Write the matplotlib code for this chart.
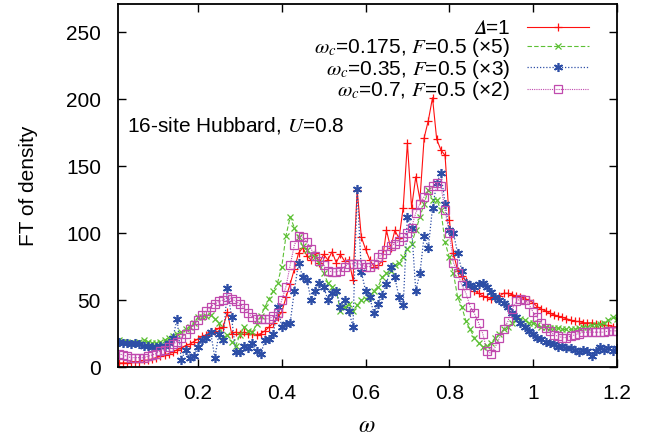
import numpy as np
import matplotlib
matplotlib.use("Agg")
import matplotlib.pyplot as plt

plt.rcParams["font.family"] = ["Liberation Sans", "DejaVu Sans"]
plt.rcParams["mathtext.fontset"] = "stix"

# omega grid, 0.01 .. 1.20
omega = np.round(np.arange(1, 121) * 0.01, 2)

delta1 = [3, 3, 3, 4, 4, 4, 5, 5, 6, 7,
          8, 9, 10, 11, 13, 14, 16, 17, 19, 21,
          23, 24, 26, 27, 29, 30, 41, 25, 26, 25,
          26, 25, 25, 24, 25, 27, 30, 33, 37, 41,
          52, 62, 73, 85, 89, 83, 80, 85, 78, 84,
          80, 86, 78, 84, 79, 80, 65, 132, 97, 88,
          80, 75, 76, 79, 102, 89, 102, 96, 119, 167,
          119, 142, 125, 171, 184, 201, 170, 162, 158, 110,
          85, 72, 68, 64, 60, 57, 55, 53, 52, 51,
          52, 53, 55, 55, 54, 53, 52, 51, 50, 48,
          45, 43, 42, 40, 39, 38, 37, 36, 35, 34,
          34, 33, 33, 33, 32, 32, 31, 31, 30, 30]

wc0175 = [20, 19, 19, 18, 18, 19, 20, 19, 18, 18,
          19, 20, 22, 23, 25, 26, 28, 30, 33, 37,
          37, 38, 39, 36, 33, 22, 24, 19, 16, 24,
          30, 27, 26, 32, 38, 45, 51, 57, 63, 75,
          98, 112, 104, 97, 90, 87, 84, 82, 78, 70,
          63, 60, 57, 42, 45, 47, 42, 46, 50, 51,
          52, 57, 60, 67, 70, 72, 76, 78, 82, 88,
          92, 102, 112, 122, 132, 125, 125, 117, 93, 82,
          70, 52, 45, 34, 28, 22, 18, 15, 16, 18,
          22, 25, 28, 30, 33, 35, 36, 35, 33, 33,
          31, 30, 30, 29, 29, 29, 28, 28, 28, 28,
          29, 30, 30, 31, 31, 32, 33, 35, 37, 36]

wc035 = [19, 18, 18, 17, 18, 17, 16, 16, 15, 15,
         16, 16, 18, 22, 36, 5, 13, 7, 8, 15,
         20, 22, 26, 7, 25, 20, 59, 37, 11, 11,
         16, 14, 18, 12, 10, 20, 21, 25, 45, 30,
         32, 33, 57, 78, 67, 65, 50, 57, 63, 60,
         50, 55, 57, 45, 50, 42, 30, 133, 71, 57,
         52, 40, 47, 54, 62, 75, 67, 52, 46, 112,
         104, 57, 70, 98, 89, 119, 137, 145, 122, 102,
         100, 85, 72, 63, 61, 60, 62, 63, 60, 56,
         52, 50, 48, 45, 40, 37, 33, 30, 27, 25,
         22, 21, 19, 18, 17, 15, 16, 14, 14, 13,
         11, 13, 12, 8, 12, 15, 13, 14, 12, 14]

wc07 = [10, 9, 8, 7, 7, 7, 7, 8, 9, 10,
        12, 13, 15, 17, 19, 22, 25, 28, 31, 35,
        39, 42, 45, 47, 49, 50, 52, 51, 49, 47,
        44, 40, 37, 36, 36, 36, 36, 38, 40, 50,
        60, 76, 91, 98, 97, 93, 88, 83, 79, 76,
        72, 71, 71, 72, 75, 77, 77, 77, 77, 75,
        75, 77, 82, 84, 87, 90, 92, 94, 97, 100,
        104, 115, 122, 127, 132, 135, 137, 135, 117, 100,
        78, 70, 61, 55, 45, 40, 33, 25, 12, 10,
        15, 22, 28, 34, 43, 49, 51, 50, 47, 41,
        37, 33, 29, 27, 24, 23, 22, 22, 23, 24,
        25, 26, 26, 26, 26, 26, 26, 27, 27, 27]

fig = plt.figure(figsize=(6.66, 4.41), dpi=100)
ax = fig.add_axes([0.1767, 0.1678, 0.7493, 0.8232])

ax.plot(omega, delta1, color="#ff1010", ls="-", lw=0.8, marker="+", ms=6, mew=0.9,
        label="$\U0001D6E5$=1")
ax.plot(omega, wc0175, color="#5cc034", ls=(0, (4, 2)), lw=0.8, marker="x", ms=5, mew=0.9,
        label=r"$\omega_c$=0.175, $F$=0.5 (×5)")
ax.plot(omega, wc035, color="#2d4ea6", ls=(0, (1, 1.5)), lw=0.9, marker=(6, 2, 0), ms=6.5, mew=1.2,
        label=r"$\omega_c$=0.35, $F$=0.5 (×3)")
ax.plot(omega, wc07, color="#c04aae", ls=(0, (1, 1)), lw=0.8, marker="s", ms=6, mew=0.9,
        mfc="none", label=r"$\omega_c$=0.7, $F$=0.5 (×2)")

ax.set_xlim(0.008, 1.2)
ax.set_ylim(0, 271)
ax.set_xticks([0.2, 0.4, 0.6, 0.8, 1.0, 1.2])
ax.set_xticklabels(["0.2", "0.4", "0.6", "0.8", "1", "1.2"])
ax.set_yticks([0, 50, 100, 150, 200, 250])
ax.tick_params(direction="in", length=6, width=1, top=True, right=True,
               labelsize=15, pad=12)
for s in ax.spines.values():
    s.set_linewidth(1.3)

ax.set_xlabel(r"$\omega$", fontsize=17, labelpad=9)
ax.set_ylabel("FT of density", fontsize=15, labelpad=20)

ax.text(0.018, 0.665, r"16-site Hubbard, $U$=0.8", transform=ax.transAxes,
        fontsize=15, va="center")

leg = ax.legend(loc="upper right", markerfirst=False, frameon=False, fontsize=15,
                handlelength=3.0, handletextpad=0.8, labelspacing=-0.08,
                borderaxespad=0.32, bbox_to_anchor=(0.975, 1.0))
for col in leg._legend_handle_box.get_children():
    col.align = "right"

fig.savefig("out.png", dpi=100)
